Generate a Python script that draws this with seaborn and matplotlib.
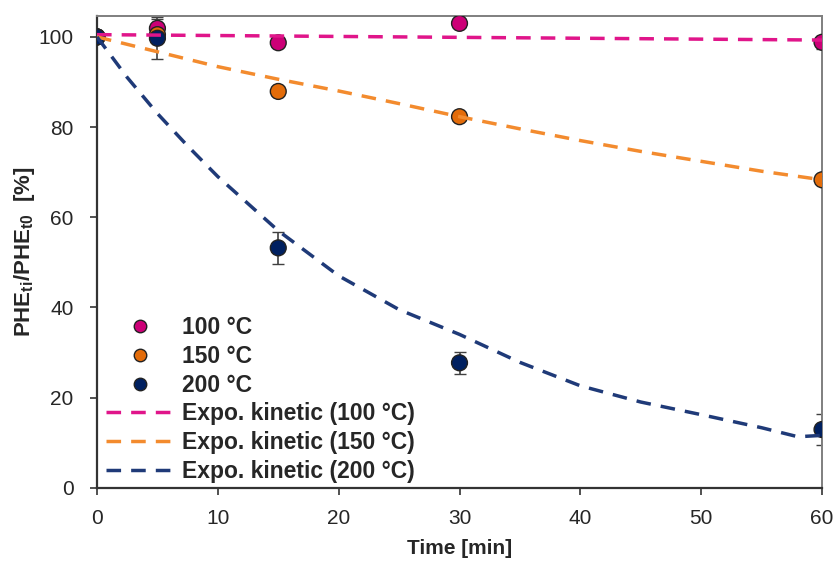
import numpy as np
import pandas as pd
import seaborn as sns
import matplotlib.pyplot as plt
from matplotlib.lines import Line2D

# measured points (time in min, PHE remaining in %)
time_pts = [0, 5, 15, 30, 60]
phe_100 = [100, 101.9, 98.7, 103.0, 98.8]
phe_150 = [100, 100.5, 87.9, 82.3, 68.3]
phe_200 = [100, 99.7, 53.2, 27.7, 12.9]
err_100 = [0, 2.0, 1.0, 0.8, 1.5]
err_150 = [0, 1.0, 0.8, 0.8, 0.8]
err_200 = [0, 4.7, 3.5, 2.5, 3.5]

# exponential kinetic fits
fit_t_100 = [0, 5, 10, 15, 20, 25, 30, 40, 50, 60]
fit_100 = [100.5, 100.4, 100.3, 100.2, 100.1, 100.0, 99.9, 99.7, 99.5, 99.3]
fit_t_150 = [0, 5, 10, 15, 20, 25, 30, 35, 40, 45, 50, 55, 60]
fit_150 = [100, 96.7, 93.4, 90.6, 88.0, 85.2, 82.3, 79.6, 77.0, 74.6,
           72.4, 70.2, 68.3]
fit_t_200 = [0, 2.5, 5, 7.5, 10, 15, 20, 25, 30, 35, 40, 45, 50, 55, 58, 60]
fit_200 = [100, 91.0, 83.0, 75.8, 69.0, 57.0, 47.0, 39.5, 34.0, 27.8, 22.6,
           19.0, 16.2, 13.3, 11.3, 11.6]

temps = ["100 °C", "150 °C", "200 °C"]
pt_colors = ["#CC0077", "#E36C0A", "#002060"]
line_colors = ["#E0158A", "#F38B2E", "#1F3A78"]
DASH = (4.2, 2.9)


def build_frames():
    pts = pd.DataFrame({
        "time": time_pts * 3,
        "phe": phe_100 + phe_150 + phe_200,
        "err": err_100 + err_150 + err_200,
        "temp": [t for t in temps for _ in time_pts],
    })
    fits = pd.DataFrame({
        "time": fit_t_100 + fit_t_150 + fit_t_200,
        "phe": fit_100 + fit_150 + fit_200,
        "temp": [temps[0]] * len(fit_t_100) + [temps[1]] * len(fit_t_150)
                + [temps[2]] * len(fit_t_200),
    })
    return pts, fits


def main():
    sns.set_style("white")
    plt.rcParams['font.family'] = ['Liberation Sans', 'DejaVu Sans']
    plt.rcParams['mathtext.fontset'] = 'custom'
    plt.rcParams['mathtext.rm'] = 'Liberation Sans:bold'
    plt.rcParams['mathtext.it'] = 'Liberation Sans:bold'
    plt.rcParams['mathtext.bf'] = 'Liberation Sans:bold'

    pts, fits = build_frames()

    fig = plt.figure(figsize=(8.37, 5.61), dpi=100)
    ax = fig.add_axes([0.1159, 0.1307, 0.8662, 0.8413])

    # error bars
    for temp in temps:
        d = pts[pts["temp"] == temp]
        ax.errorbar(d["time"], d["phe"], yerr=d["err"], fmt="none",
                    ecolor="#404040", elinewidth=1.2, capsize=4, zorder=2)

    sns.scatterplot(data=pts, x="time", y="phe", hue="temp", palette=pt_colors,
                    s=130, edgecolor="#222222", linewidth=1.0, ax=ax,
                    legend=False, zorder=3)

    sns.lineplot(data=fits, x="time", y="phe", hue="temp", style="temp",
                 palette=line_colors, dashes={t: DASH for t in temps},
                 linewidth=2.5, ax=ax, legend=False, sort=True, zorder=4)

    ax.set_xlim(0, 60)
    ax.set_ylim(0, 104.7)
    ax.set_xticks(np.arange(0, 61, 10))
    ax.set_yticks(np.arange(0, 101, 20))
    ax.tick_params(axis="both", labelsize=15, direction="out", length=5,
                   width=1.2, color="#333333", bottom=True, left=True)
    ax.tick_params(axis="x", pad=10)
    ax.tick_params(axis="y", pad=12)

    for side in ["left", "bottom"]:
        ax.spines[side].set_color("#333333")
        ax.spines[side].set_linewidth(1.6)
    for side in ["top", "right"]:
        ax.spines[side].set_color("#7f7f7f")
        ax.spines[side].set_linewidth(1.4)

    ax.set_xlabel("Time [min]", fontsize=15, fontweight="bold", labelpad=8)
    ax.set_ylabel(r"PHE$_{ti}$/PHE$_{t0}$  [%]", fontsize=16,
                  fontweight="bold", labelpad=1)

    handles = []
    for c in pt_colors:
        handles.append(Line2D([], [], linestyle="none", marker="o",
                              markersize=9, markerfacecolor=c,
                              markeredgecolor="#222222"))
    for c in line_colors:
        handles.append(Line2D([], [], color=c, linewidth=2.5,
                              linestyle=(0, DASH)))
    labels = temps + ["Expo. kinetic (%s)" % t for t in temps]
    leg = ax.legend(handles, labels, loc="lower left",
                    bbox_to_anchor=(0.012, 0.01), frameon=False,
                    handlelength=3.0, handletextpad=0.35,
                    labelspacing=0.25, borderpad=0, borderaxespad=0,
                    prop={"weight": "bold", "size": 16.5})
    leg.set_zorder(5)

    fig.savefig("out.png", dpi=100)


if __name__ == "__main__":
    main()
